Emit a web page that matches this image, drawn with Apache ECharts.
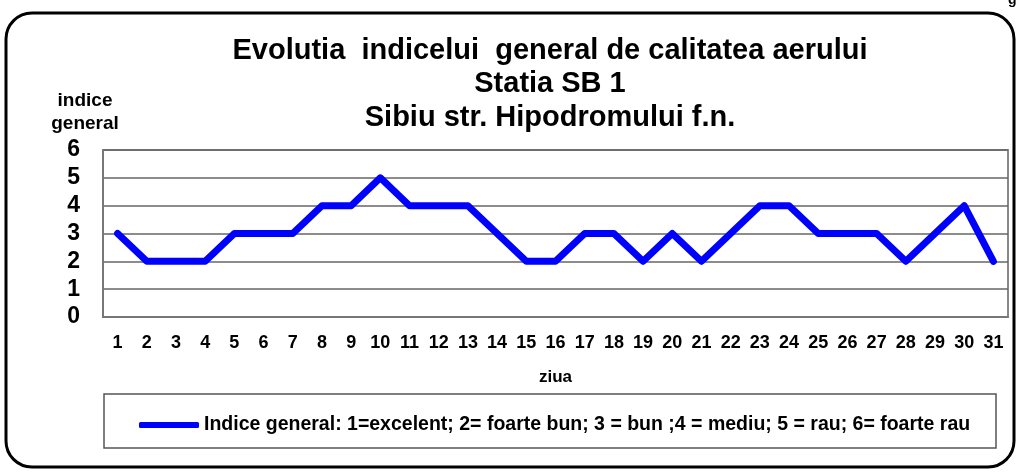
<!DOCTYPE html>
<html>
<head>
<meta charset="utf-8">
<script src="https://cdn.jsdelivr.net/npm/echarts@6/dist/echarts.min.js"></script>
<style>
html, body { margin: 0; padding: 0; background: #fff; }
#chart-container { width: 1018px; height: 472px; }
</style>
</head>
<body>
<div id="chart-container"></div>
<script>
const days = [];
for (let d = 1; d <= 31; d++) days.push(String(d));
const indiceGeneral = [3, 2, 2, 2, 3, 3, 3, 4, 4, 5, 4, 4, 4, 3, 2, 2, 3, 3, 2, 3, 2, 3, 4, 4, 3, 3, 3, 2, 3, 4, 2];
const seriesName = 'Indice general: 1=excelent; 2= foarte bun; 3 = bun ;4 = mediu; 5 = rau; 6= foarte rau';

let myChart = echarts.init(document.getElementById('chart-container'), null, {
	renderer: 'canvas',
});

const font = 'Liberation Sans, Arial, sans-serif';

let option = {
	backgroundColor: '#fff',
	textStyle: { fontFamily: font },
	title: {
		text: 'Evolutia  indicelui  general de calitatea aerului\nStatia SB 1\nSibiu str. Hipodromului f.n.',
		left: 545,
		top: 29,
		textAlign: 'center',
		textStyle: {
			fontFamily: font,
			fontSize: 29,
			fontWeight: 'bold',
			color: '#000',
			lineHeight: 33.5,
		},
	},
	legend: {
		data: [seriesName],
		left: 134,
		top: 410,
		itemWidth: 60,
		itemHeight: 6,
		itemGap: 8,
		icon: 'roundRect',
		textStyle: { fontFamily: font, fontSize: 19.5, fontWeight: 'bold', color: '#000' },
	},
	grid: {
		left: 103,
		right: 10,
		top: 150,
		bottom: 155,
		show: true,
		borderColor: '#888',
		borderWidth: 2,
	},
	xAxis: {
		type: 'category',
		data: days,
		name: 'ziua',
		nameLocation: 'middle',
		nameGap: 52,
		nameTextStyle: { fontFamily: font, fontSize: 17, fontWeight: 'bold', color: '#000' },
		axisLine: { lineStyle: { color: '#777', width: 2 } },
		axisTick: { show: false },
		axisLabel: { fontFamily: font, fontSize: 18, fontWeight: 'bold', color: '#000', margin: 17, interval: 0 },
	},
	yAxis: {
		type: 'value',
		min: 0,
		max: 6,
		interval: 1,
		name: 'indice\ngeneral',
		nameLocation: 'end',
		nameGap: 15,
		nameTextStyle: {
			fontFamily: font,
			fontSize: 19,
			fontWeight: 'bold',
			color: '#000',
			lineHeight: 23,
			align: 'center',
			padding: [0, 36, 0, 0],
		},
		axisLine: { show: true, lineStyle: { color: '#777', width: 2 } },
		axisTick: { show: false },
		axisLabel: { fontFamily: font, fontSize: 23, fontWeight: 'bold', color: '#000', margin: 23 },
		splitLine: { lineStyle: { color: '#666', width: 1.5 } },
	},
	series: [
		{
			name: seriesName,
			type: 'line',
			data: indiceGeneral,
			symbol: 'none',
			lineStyle: { color: '#0000ff', width: 7, cap: 'round', join: 'round' },
			itemStyle: { color: '#0000ff' },
		},
	],
	graphic: [
		{
			type: 'rect',
			shape: { x: 6, y: 13, width: 1008, height: 454, r: 26 },
			style: { fill: 'none', stroke: '#000', lineWidth: 3 },
			z: -1,
		},
		{
			type: 'rect',
			shape: { x: 104, y: 394, width: 892, height: 54 },
			style: { fill: 'none', stroke: '#555', lineWidth: 1.5 },
			z: -1,
		},
		{
			type: 'text',
			left: 1008,
			top: -7,
			style: { text: 'g', fontFamily: font, fontSize: 14, fontWeight: 'bold', fill: '#000' },
		},
	],
};

myChart.setOption(option);
window.addEventListener('resize', myChart.resize);
</script>
</body>
</html>
